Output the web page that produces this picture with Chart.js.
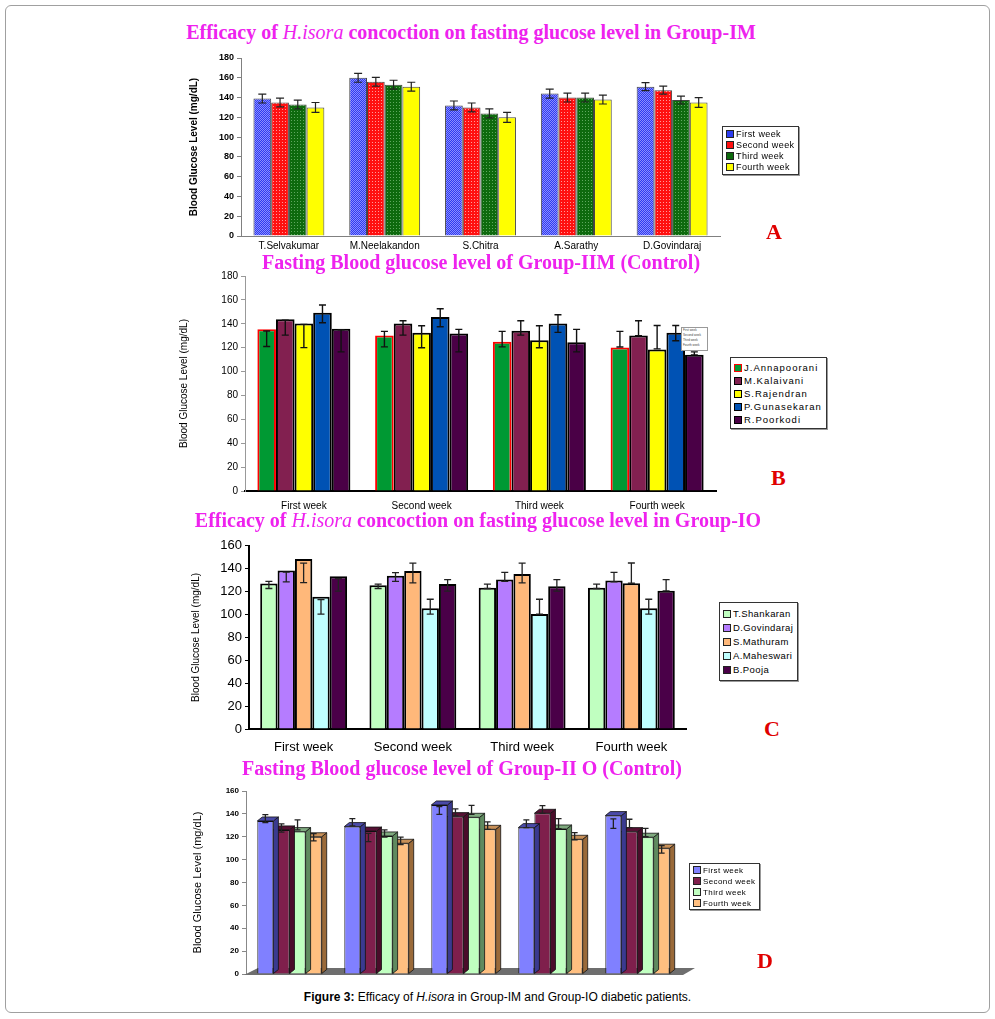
<!DOCTYPE html>
<html>
<head>
<meta charset="utf-8">
<script src="https://cdn.jsdelivr.net/npm/chart.js@4.4.1/dist/chart.umd.min.js"></script>
<style>
body{margin:0;background:#fff;width:995px;height:1019px;position:relative;overflow:hidden;font-family:"Liberation Sans",Arial,sans-serif}
.frame{position:absolute;left:5px;top:5px;width:983px;height:1006px;border:1px solid #a0a0a0;border-radius:6px}
.ttl{position:absolute;transform:translateX(-50%);white-space:nowrap;color:#ee22ee;font:bold 20px "Liberation Serif","Times New Roman",serif}
.ttl i{font-weight:normal}
.tag{position:absolute;color:#e00000;font:bold 22px "Liberation Serif","Times New Roman",serif}
canvas{position:absolute}
.lg{position:absolute;border:1px solid #333;background:#fff;box-shadow:1px 1px 0 #999;padding:2px 4px 1px 3px;font-size:9px;letter-spacing:0.4px;color:#000}
.lg div{height:11px;line-height:11px;white-space:nowrap}
.lg span{display:inline-block;width:6px;height:6px;border:1px solid #222;margin-right:2px;vertical-align:-1px}
.cap{position:absolute;left:0;width:995px;top:990px;text-align:center;font-size:12px;color:#000}
</style>
</head>
<body>
<div class="frame"></div>

<div class="ttl" style="left:471px;top:21px">Efficacy of <i>H.isora</i> concoction on fasting glucose level in Group-IM</div>
<canvas id="chartA" width="537" height="215" style="left:188px;top:48px"></canvas>
<div class="lg" id="legA" style="left:722px;top:126px"></div>
<div class="tag" style="left:766px;top:219px">A</div>

<div class="ttl" style="left:481px;top:251px">Fasting Blood glucose level of Group-IIM (Control)</div>
<canvas id="chartB" width="543" height="250" style="left:178px;top:265px"></canvas>
<div class="lg" id="legB" style="left:730px;top:357px;font-size:9.5px;letter-spacing:1px;padding-top:3px;padding-bottom:2px"></div>
<div style="position:absolute;left:681px;top:327px;width:24px;height:22px;border:1px solid #999;background:#fff;font-size:3px;line-height:5px;color:#444;padding-left:1px">First week<br>Second week<br>Third week<br>Fourth week</div>
<div class="tag" style="left:771px;top:465px">B</div>

<div class="ttl" style="left:478px;top:509px">Efficacy of <i>H.isora</i> concoction on fasting glucose level in Group-IO</div>
<canvas id="chartC" width="501" height="225" style="left:190px;top:535px"></canvas>
<div class="lg" id="legC" style="left:719px;top:602px;font-size:9.5px;padding-top:4px;padding-bottom:3px"></div>
<div class="tag" style="left:764px;top:716px">C</div>

<div class="ttl" style="left:462px;top:757px">Fasting Blood glucose level of Group-II O (Control)</div>
<canvas id="chartD" width="509" height="200" style="left:191px;top:783px"></canvas>
<div class="lg" id="legD" style="left:689px;top:863px;font-size:8px;padding:1px 4px 0 3px"></div>
<div class="tag" style="left:757px;top:948px">D</div>

<div class="cap"><b>Figure 3:</b> Efficacy of <i>H.isora</i> in Group-IM and Group-IO diabetic patients.</div>

<script>
// ---- Panel A : Group-IM, weeks per patient ----
const imPatients = ['T.Selvakumar', 'M.Neelakandon', 'S.Chitra', 'A.Sarathy', 'D.Govindaraj'];
const weekNames = ['First week', 'Second week', 'Third week', 'Fourth week'];
const imFirst = [139, 160, 132, 144, 151];
const imSecond = [135, 156, 130, 140, 147.5];
const imThird = [133, 153, 124, 140, 137.5];
const imFourth = [130, 151, 120, 138, 135];
const imFirstSd = [4.5, 4.5, 4.5, 4.5, 4];
const imSecondSd = [4.5, 4.5, 4.5, 4.5, 4];
const imThirdSd = [4.5, 4.5, 4.5, 4.5, 4];
const imFourthSd = [5, 4.5, 5, 4.5, 5];

// ---- Panel B : Group-IIM control, patients per week ----
const iimPatients = ['J.Annapoorani', 'M.Kalaivani', 'S.Rajendran', 'P.Gunasekaran', 'R.Poorkodi'];
const bAnnapoorani = [135.5, 130.2, 125, 120.2];
const bAnnapooraniLow = [121, 120.7, 120.7, 120.5];
const bAnnapooraniHigh = [134, 133.6, 133.6, 133.6];
const bKalaivani = [143.7, 140.3, 134.2, 130.2];
const bKalaivaniLow = [130.5, 130.5, 130.5, 130];
const bKalaivaniHigh = [143, 142.5, 142.5, 142.5];
const bRajendran = [140.3, 132.5, 126.3, 118.5];
const bRajendranLow = [120, 119.9, 119.9, 119];
const bRajendranHigh = [139.5, 138.3, 138.3, 138.6];
const bGunasekaran = [149.2, 145.6, 140.3, 132.5];
const bGunasekaranLow = [140.9, 137.5, 132.8, 125.8];
const bGunasekaranHigh = [155.7, 152.6, 147.6, 138.6];
const bPoorkodi = [135.8, 131.9, 124.6, 114];
const bPoorkodiLow = [116.5, 116.5, 116.5, 114];
const bPoorkodiHigh = [135, 135.3, 135.3, 116.5];

// ---- Panel C : Group-IO, patients per week ----
const ioPatients = ['T.Shankaran', 'D.Govindaraj', 'S.Mathuram', 'A.Maheswari', 'B.Pooja'];
const cShankaran = [127, 125.6, 123.3, 123.3];
const cShankaranLow = [122.7, 122.7, 122.7, 122.7];
const cShankaranHigh = [129, 126.5, 126.5, 126.5];
const cGovindaraj = [138.5, 133.9, 130.5, 129.6];
const cGovindarajLow = [128.5, 129, 129, 128.5];
const cGovindarajHigh = [137, 136.5, 136.8, 136.8];
const cMathuram = [148.5, 137.9, 135.3, 127.3];
const cMathuramLow = [127.9, 127.6, 127.6, 127.3];
const cMathuramHigh = [144.8, 144.8, 144.8, 145];
const cMaheswari = [115.6, 105.5, 100.4, 105.5];
const cMaheswariLow = [100.4, 100.4, 100.4, 100.4];
const cMaheswariHigh = [113, 113.3, 113.3, 113.3];
const cPooja = [133.3, 126.7, 124.7, 120.7];
const cPoojaLow = [120.4, 120.4, 120.4, 120.7];
const cPoojaHigh = [131.3, 130.5, 130.5, 130.5];

// ---- Panel D : Group-IIO control, weeks per patient (unlabelled groups) ----
const iioGroups = ['', '', '', '', ''];
const dFirst = [133.8, 128.9, 147.8, 128, 138.5];
const dFirstLow = [132.4, 129.5, 139.6, 128, 127.4];
const dFirstHigh = [139.3, 135.9, 146.3, 134.7, 135.6];
const dSecond = [126, 125, 137.6, 140.5, 124.5];
const dSecondLow = [124, 115.8, 138.2, 140.5, 128];
const dSecondHigh = [131.2, 123, 144.3, 147.2, 135.3];
const dThird = [124.5, 120.7, 137, 126.8, 119.6];
const dThirdLow = [126, 119.6, 139.6, 127.1, 120];
const dThirdHigh = [134.7, 126, 147.5, 135.9, 127.4];
const dFourth = [120, 114.3, 126.5, 117.8, 110];
const dFourthLow = [116.4, 113.2, 126.5, 117.2, 105.6];
const dFourthHigh = [122.8, 119.6, 133, 123.6, 112.3];

const yTitle = 'Blood Glucose Level (mg/dL)';
const narrow = '"Liberation Sans Narrow", "Arial Narrow", "Liberation Sans", Arial, sans-serif';
const sans = '"Liberation Sans", Arial, sans-serif';

function dotted(base, dot, step, pts) {
  var c = document.createElement('canvas');
  c.width = c.height = step;
  var g = c.getContext('2d');
  g.fillStyle = base;
  g.fillRect(0, 0, step, step);
  g.fillStyle = dot;
  pts.forEach(function(p) { g.fillRect(p[0], p[1], 1, 1); });
  return g.createPattern(c, 'repeat');
}

// draws I-shaped error bars from each dataset's low/high arrays
function errorBars(cap, color, width) {
  return {
    id: 'errorBars',
    afterDatasetsDraw(chart) {
      var ctx = chart.ctx, y = chart.scales.y;
      chart.data.datasets.forEach(function(ds, i) {
        if (!ds.errLow) return;
        chart.getDatasetMeta(i).data.forEach(function(bar, j) {
          var top = y.getPixelForValue(ds.errHigh[j]);
          var bot = y.getPixelForValue(ds.errLow[j]);
          ctx.save();
          ctx.strokeStyle = color;
          ctx.lineWidth = width;
          ctx.beginPath();
          ctx.moveTo(bar.x, top); ctx.lineTo(bar.x, bot);
          ctx.moveTo(bar.x - cap, top); ctx.lineTo(bar.x + cap, top);
          ctx.moveTo(bar.x - cap, bot); ctx.lineTo(bar.x + cap, bot);
          ctx.stroke();
          ctx.restore();
        });
      });
    }
  };
}

// fake 3D look for panel D: floor, top faces and side faces
const depth = {
  id: 'depth',
  beforeDatasetsDraw(chart) {
    var a = chart.chartArea, ctx = chart.ctx;
    ctx.save();
    ctx.fillStyle = '#6e6e6e';
    ctx.beginPath();
    ctx.moveTo(a.left - 2, a.bottom + 1);
    ctx.lineTo(a.right + 2, a.bottom + 1);
    ctx.lineTo(a.right + 14, a.bottom - 6);
    ctx.lineTo(a.left + 12, a.bottom - 6);
    ctx.closePath();
    ctx.fill();
    ctx.restore();
  },
  afterDatasetDraw(chart, args) {
    var ds = chart.data.datasets[args.index], ctx = chart.ctx;
    var dx = 5, dy = 4;
    args.meta.data.forEach(function(bar) {
      var l = bar.x - bar.width / 2, r = bar.x + bar.width / 2;
      ctx.save();
      ctx.strokeStyle = '#111';
      ctx.lineWidth = 0.8;
      ctx.fillStyle = ds.sideColor;
      ctx.beginPath();
      ctx.moveTo(r, bar.y); ctx.lineTo(r + dx, bar.y - dy);
      ctx.lineTo(r + dx, bar.base - dy); ctx.lineTo(r, bar.base);
      ctx.closePath(); ctx.fill(); ctx.stroke();
      ctx.fillStyle = ds.topColor;
      ctx.beginPath();
      ctx.moveTo(l, bar.y); ctx.lineTo(l + dx, bar.y - dy);
      ctx.lineTo(r + dx, bar.y - dy); ctx.lineTo(r, bar.y);
      ctx.closePath(); ctx.fill(); ctx.stroke();
      ctx.restore();
    });
  }
};

function opts(o) {
  return {
    responsive: false,
    animation: false,
    layout: { padding: { top: o.padTop, right: o.padRight, left: 0, bottom: 0 } },
    datasets: { bar: { categoryPercentage: o.cat, barPercentage: 1 } },
    plugins: { legend: { display: false }, tooltip: { enabled: false } },
    scales: {
      x: {
        grid: { display: false, drawTicks: false },
        border: { color: o.xLine, width: o.xLineW },
        ticks: { display: o.xTicks, color: '#000', padding: o.xPad, font: { family: o.xFamily || sans, size: o.xSize } },
        afterFit: function(s) { s.height = o.xh; }
      },
      y: {
        min: 0, max: o.max,
        grid: { display: true, drawOnChartArea: false, tickLength: 4, color: o.yLine },
        border: { color: o.yLine, width: o.yLineW },
        ticks: { stepSize: 20, color: '#000', padding: 3, font: { family: sans, size: o.ySize, weight: o.yWeight } },
        title: { display: true, text: yTitle, color: '#000', padding: 0, font: { family: narrow, size: o.tSize, weight: o.tWeight } },
        afterFit: function(s) { s.width = o.yw; }
      }
    }
  };
}

function legend(id, labels, colors, borders) {
  var el = document.getElementById(id);
  el.innerHTML = labels.map(function(l, i) {
    return '<div><span style="background:' + colors[i] + ';border-color:' + (borders ? borders[i] : '#222') + '"></span>' + l + '</div>';
  }).join('');
}

// Panel A
var aFill = [
  dotted('#2c3cf0', '#8c8cff', 2, [[0, 0], [1, 1]]),
  dotted('#ff1010', '#ff9a9a', 3, [[1, 1]]),
  dotted('#0e6a0e', '#5fa85f', 3, [[1, 0]]),
  '#ffff00'
];
var aVals = [imFirst, imSecond, imThird, imFourth];
var aSd = [imFirstSd, imSecondSd, imThirdSd, imFourthSd];
new Chart(document.getElementById('chartA'), {
  type: 'bar',
  data: {
    labels: imPatients,
    datasets: weekNames.map(function(w, i) {
      return {
        label: w, data: aVals[i], backgroundColor: aFill[i], borderColor: '#444', borderWidth: 1,
        errLow: aVals[i].map(function(v, j) { return v - aSd[i][j]; }),
        errHigh: aVals[i].map(function(v, j) { return v + aSd[i][j]; })
      };
    })
  },
  options: opts({ padTop: 10, padRight: 5, cat: 0.74, xh: 27, xPad: 4, xSize: 10, xTicks: true, xLine: '#808080', xLineW: 1,
    max: 180, yw: 53, yLine: '#808080', yLineW: 1, ySize: 9, yWeight: 'bold', tSize: 10, tWeight: 'bold' }),
  plugins: [errorBars(4, '#222', 1.2)]
});
legend('legA', weekNames, ['#2c3cf0', '#ff1010', '#0e6a0e', '#ffff00']);

// Panel B
var bColors = ['#009933', '#822050', '#ffff00', '#0052b4', '#4a0046'];
var bVals = [bAnnapoorani, bKalaivani, bRajendran, bGunasekaran, bPoorkodi];
var bLow = [bAnnapooraniLow, bKalaivaniLow, bRajendranLow, bGunasekaranLow, bPoorkodiLow];
var bHigh = [bAnnapooraniHigh, bKalaivaniHigh, bRajendranHigh, bGunasekaranHigh, bPoorkodiHigh];
var bBorders = ['#ff0000', '#000', '#000', '#000', '#000'];
new Chart(document.getElementById('chartB'), {
  type: 'bar',
  data: {
    labels: weekNames,
    datasets: iimPatients.map(function(p, i) {
      return { label: p, data: bVals[i], backgroundColor: bColors[i], borderColor: bBorders[i], borderWidth: 2,
        errLow: bLow[i], errHigh: bHigh[i] };
    })
  },
  options: opts({ padTop: 11, padRight: 5, cat: 0.79, xh: 24, xPad: 9, xSize: 10, xTicks: true, xLine: '#000', xLineW: 2,
    max: 180, yw: 67, yLine: '#999', yLineW: 1, ySize: 10, yWeight: 'normal', tSize: 10, tWeight: 'normal' }),
  plugins: [errorBars(3.5, '#111', 1.4)]
});
legend('legB', iimPatients, bColors, bBorders);

// Panel C
var cColors = ['#c0ffc0', '#b57cff', '#ffb87a', '#c0ffff', '#4a0048'];
var cVals = [cShankaran, cGovindaraj, cMathuram, cMaheswari, cPooja];
var cLow = [cShankaranLow, cGovindarajLow, cMathuramLow, cMaheswariLow, cPoojaLow];
var cHigh = [cShankaranHigh, cGovindarajHigh, cMathuramHigh, cMaheswariHigh, cPoojaHigh];
new Chart(document.getElementById('chartC'), {
  type: 'bar',
  data: {
    labels: weekNames,
    datasets: ioPatients.map(function(p, i) {
      return { label: p, data: cVals[i], backgroundColor: cColors[i], borderColor: '#000', borderWidth: 2,
        errLow: cLow[i], errHigh: cHigh[i] };
    })
  },
  options: opts({ padTop: 8, padRight: 5, cat: 0.795, xh: 31, xPad: 11, xSize: 13, xTicks: true, xLine: '#000', xLineW: 2,
    max: 160, yw: 59, yLine: '#000', yLineW: 2, ySize: 13, yWeight: 'normal', tSize: 10, tWeight: 'normal' }),
  plugins: [errorBars(3.5, '#222', 1.3)]
});
legend('legC', ioPatients, cColors);

// Panel D
var dColors = ['#8080ff', '#7f1f4c', '#c0ffc0', '#ffbf80'];
var dTop = ['#4a4aa8', '#561033', '#7faa7f', '#c89058'];
var dSide = ['#3a3a90', '#4a0c2a', '#5f8a5f', '#9a6a3a'];
var dVals = [dFirst, dSecond, dThird, dFourth];
var dLow = [dFirstLow, dSecondLow, dThirdLow, dFourthLow];
var dHigh = [dFirstHigh, dSecondHigh, dThirdHigh, dFourthHigh];
new Chart(document.getElementById('chartD'), {
  type: 'bar',
  data: {
    labels: iioGroups,
    datasets: weekNames.map(function(w, i) {
      return { label: w, data: dVals[i], backgroundColor: dColors[i], borderColor: '#111', borderWidth: 1,
        topColor: dTop[i], sideColor: dSide[i], errLow: dLow[i], errHigh: dHigh[i] };
    })
  },
  options: opts({ padTop: 8, padRight: 19, cat: 0.74, xh: 9, xPad: 0, xSize: 8, xTicks: false, xLine: 'rgba(0,0,0,0)', xLineW: 0,
    max: 160, yw: 55, yLine: '#888', yLineW: 1, ySize: 8, yWeight: 'bold', tSize: 11, tWeight: 'normal' }),
  plugins: [depth, errorBars(3, '#222', 1.3)]
});
legend('legD', weekNames, dColors);
document.querySelectorAll('#legB div').forEach(function(d) { d.style.height = d.style.lineHeight = '13px'; });
document.querySelectorAll('#legC div').forEach(function(d) { d.style.height = d.style.lineHeight = '14px'; });
</script>
</body>
</html>
